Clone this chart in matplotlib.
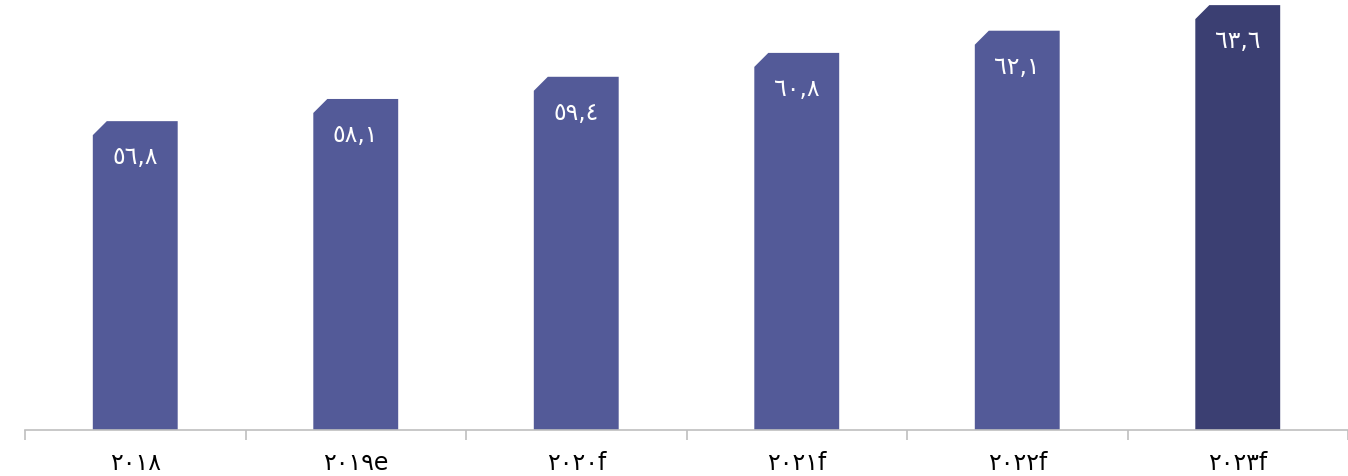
import matplotlib
matplotlib.use("Agg")
import matplotlib.pyplot as plt
from matplotlib.patches import Polygon

years = ["٢٠١٨", "٢٠١٩e", "٢٠٢٠f", "٢٠٢١f", "٢٠٢٢f", "٢٠٢٣f"]
values = [56.8, 58.1, 59.4, 60.8, 62.1, 63.6]
value_labels = ["٥٦,٨", "٥٨,١", "٥٩,٤", "٦٠,٨", "٦٢,١", "٦٣,٦"]
bar_colors = ["#535A98", "#535A98", "#535A98", "#535A98", "#535A98", "#3B3F72"]

plt.rcParams["font.family"] = ["DejaVu Sans"]

fig = plt.figure(figsize=(13.48, 4.76), dpi=100)
ax = fig.add_axes([25 / 1348, 46 / 476, 1 - 25 / 1348, 430 / 476])
ax.set_xlim(-0.5, 5.5)
ax.set_ylim(38.7, 63.9)

x = list(range(len(values)))
bars = ax.bar(x, [v - 38.7 for v in values], bottom=38.7, width=0.385,
              color=bar_colors, linewidth=0)

# replace each rectangle with a polygon whose top-left corner is cut off
fig.canvas.draw()
inv = ax.transData.inverted()
cut_px = 14
for rect, color in zip(bars, bar_colors):
    x0, y0 = rect.get_x(), rect.get_y()
    w, h = rect.get_width(), rect.get_height()
    x1, y1 = x0 + w, y0 + h
    px, py = ax.transData.transform((x0, y1))
    cx, _ = inv.transform((px + cut_px, py))
    _, cy = inv.transform((px, py - cut_px))
    poly = Polygon([(x0, y0), (x0, cy), (cx, y1), (x1, y1), (x1, y0)],
                   closed=True, facecolor=color, edgecolor="none", zorder=2)
    rect.set_visible(False)
    ax.add_patch(poly)

for xi, v, lab in zip(x, values, value_labels):
    ax.annotate(lab, (xi, v), xytext=(0, -26), textcoords="offset points",
                ha="center", va="center", color="white", fontsize=17)

for s in ["top", "right", "left"]:
    ax.spines[s].set_visible(False)
ax.spines["bottom"].set_color("#BFBFBF")
ax.spines["bottom"].set_linewidth(1.2)
ax.set_yticks([])
ax.set_xticks(x)
ax.set_xticklabels(years, fontsize=17)
ax.tick_params(axis="x", which="major", length=0, pad=15, colors="black")
ax.set_xticks([i - 0.5 for i in range(len(values) + 1)], minor=True)
ax.tick_params(axis="x", which="minor", length=7.5, width=1.2, color="#BFBFBF")

fig.savefig("out.png", dpi=100)
